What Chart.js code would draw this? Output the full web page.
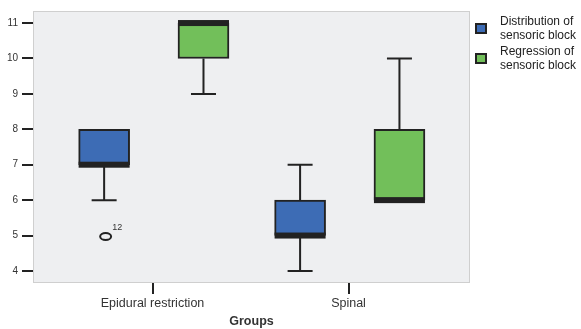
<!DOCTYPE html>
<html>
<head>
<meta charset="utf-8">
<script src="https://cdn.jsdelivr.net/npm/chart.js@4/dist/chart.umd.min.js"></script>
<style>
  html, body { margin: 0; padding: 0; background: #fff; }
  #wrap { width: 581px; height: 329px; }
</style>
</head>
<body>
<div id="wrap"><canvas id="chart" width="581" height="329"></canvas></div>
<script>
// ── Data ─────────────────────────────────────────────
const categories = ['Epidural restriction', 'Spinal'];
const yTicks = [4, 5, 6, 7, 8, 9, 10, 11];

// Distribution of sensoric block
const distMin    = [6, 4];
const distQ1     = [7, 5];
const distMedian = [7, 5];
const distQ3     = [8, 6];
const distMax    = [8, 7];
const distOutliers = [[{ v: 5, label: '12' }], []];

// Regression of sensoric block
const regMin    = [9, 6];
const regQ1     = [10, 6];
const regMedian = [11, 6];
const regQ3     = [11, 8];
const regMax    = [11, 10];
const regOutliers = [[], []];

const FONT = "'Liberation Sans', Arial, sans-serif";
const INK = '#222';

const series = [
  { name: ['Distribution of', 'sensoric block'], color: '#3d6cb5', offset: -0.247,
    min: distMin, q1: distQ1, med: distMedian, q3: distQ3, max: distMax, out: distOutliers },
  { name: ['Regression of', 'sensoric block'], color: '#72bf5a', offset: 0.26,
    min: regMin, q1: regQ1, med: regMedian, q3: regQ3, max: regMax, out: regOutliers },
];

// ── Plot background + frame ──────────────────────────
const frame = {
  id: 'frame',
  beforeDraw(chart) {
    const { ctx, chartArea: a } = chart;
    ctx.save();
    ctx.fillStyle = '#eeeff1';
    ctx.fillRect(a.left, a.top, a.right - a.left, a.bottom - a.top);
    ctx.strokeStyle = '#cfcfcf';
    ctx.lineWidth = 1;
    ctx.strokeRect(a.left + 0.5, a.top + 0.5, a.right - a.left - 1, a.bottom - a.top - 1);
    ctx.restore();
  }
};

// ── Whiskers, medians, outliers ──────────────────────
const boxParts = {
  id: 'boxParts',
  afterDatasetsDraw(chart) {
    const { ctx, scales: { x, y } } = chart;
    const half = 25.5, cap = 12.5;
    ctx.save();
    ctx.strokeStyle = INK;
    ctx.fillStyle = INK;
    ctx.lineWidth = 2;
    series.forEach(s => {
      categories.forEach((_, i) => {
        const cx = x.getPixelForValue(i + s.offset);
        const line = (v0, v1) => {
          if (v0 === v1) return;
          const y0 = y.getPixelForValue(v0), y1 = y.getPixelForValue(v1);
          ctx.beginPath();
          ctx.moveTo(cx, y0); ctx.lineTo(cx, y1);
          ctx.moveTo(cx - cap, y1); ctx.lineTo(cx + cap, y1);
          ctx.stroke();
        };
        line(s.q3[i], s.max[i]);
        line(s.q1[i], s.min[i]);
        const my = y.getPixelForValue(s.med[i]);
        ctx.fillRect(cx - half, my - 3, half * 2, 6);
        s.out[i].forEach(o => {
          const oy = y.getPixelForValue(o.v);
          ctx.beginPath();
          ctx.ellipse(cx + 1.5, oy + 1, 5.5, 3.5, 0, 0, Math.PI * 2);
          ctx.stroke();
          ctx.font = '9px ' + FONT;
          ctx.fillStyle = '#333';
          ctx.textAlign = 'left';
          ctx.textBaseline = 'middle';
          ctx.fillText(o.label, cx + 8, oy - 8);
          ctx.fillStyle = INK;
        });
      });
    });
    ctx.restore();
  }
};

// ── Legend ───────────────────────────────────────────
const legendBox = {
  id: 'legendBox',
  afterDraw(chart) {
    const { ctx } = chart;
    ctx.save();
    ctx.font = '12px ' + FONT;
    ctx.textAlign = 'left';
    ctx.textBaseline = 'middle';
    series.forEach((s, k) => {
      const top = 22 + k * 30;
      ctx.fillStyle = s.color;
      ctx.fillRect(476, top + 2, 10, 9);
      ctx.strokeStyle = INK;
      ctx.lineWidth = 2;
      ctx.strokeRect(476, top + 2, 10, 9);
      ctx.fillStyle = '#222';
      ctx.fillText(s.name[0], 500, top);
      ctx.fillText(s.name[1], 500, top + 14);
    });
    ctx.restore();
  }
};

new Chart(document.getElementById('chart'), {
  type: 'bar',
  data: {
    datasets: series.map(s => ({
      label: s.name.join(' '),
      data: categories.map((_, i) => ({ x: i + s.offset, y: [s.q1[i], s.q3[i]] })),
      backgroundColor: s.color,
      borderColor: INK,
      borderWidth: 2,
      borderSkipped: false,
      barThickness: 51,
      grouped: false,
    }))
  },
  options: {
    responsive: false,
    animation: false,
    layout: { padding: { top: 11, right: 111, left: 0, bottom: 0 } },
    plugins: { legend: { display: false }, tooltip: { enabled: false } },
    scales: {
      x: {
        type: 'linear',
        offset: false,
        min: -0.61, max: 1.62,
        afterBuildTicks: sc => { sc.ticks = categories.map((_, i) => ({ value: i })); },
        afterFit: sc => { sc.height = 46; },
        grid: { display: true, offset: false, drawOnChartArea: false, drawTicks: true, tickLength: 11, tickColor: INK, lineWidth: 2 },
        border: { display: false },
        ticks: {
          color: '#333', padding: 2, maxRotation: 0, autoSkip: false,
          font: { family: FONT, size: 12.5 },
          callback: v => categories[v] ?? ''
        },
        title: {
          display: true, text: 'Groups', color: '#333',
          font: { family: FONT, size: 12.5, weight: 'bold' },
          padding: { top: 1, bottom: 0 }
        }
      },
      y: {
        min: 3.66, max: 11.34,
        afterBuildTicks: sc => { sc.ticks = yTicks.map(v => ({ value: v })); },
        afterFit: sc => { sc.width = 33; },
        grid: { display: true, drawOnChartArea: false, drawTicks: true, tickLength: 11, tickColor: INK, lineWidth: 2 },
        border: { display: false },
        ticks: { color: '#333', padding: 4, font: { family: FONT, size: 10 } }
      }
    }
  },
  plugins: [frame, boxParts, legendBox]
});
</script>
</body>
</html>
